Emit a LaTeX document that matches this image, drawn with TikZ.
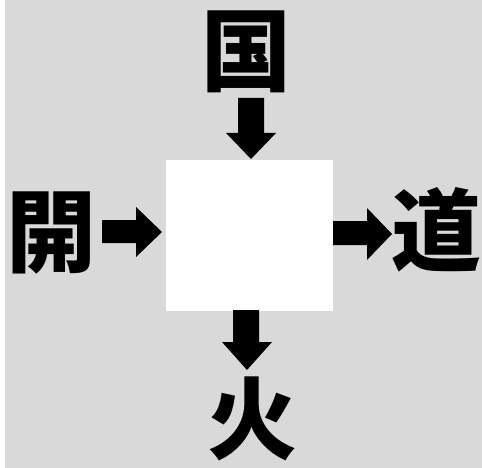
\documentclass[tikz,border=0pt]{standalone}
\usepackage{fontspec}
\newfontfamily\cjk{Noto Sans CJK JP}
\begin{document}
\begin{tikzpicture}[x=1pt,y=-1pt,
  kanji/.style={inner sep=0pt,font=\cjk\bfseries\fontsize{90}{90}\selectfont},
  blockarrow/.style={fill=black,draw=none}]
\useasboundingbox (0,0) rectangle (482,468);
\fill[white] (0,0) rectangle (482,468);
\fill[gray!30] (5,0) rectangle (482,468);
\node[fill=white,minimum width=167pt,minimum height=151pt,inner sep=0pt] (box) at (249.5,235.5) {};
\node[kanji] (top) at (246,52) {国};
\node[kanji] (left) at (51,233) {開};
\node[kanji] (right) at (436,230) {道};
\node[kanji] (bottom) at (252,419) {火};
% arrows
\fill[blockarrow] (238,98) -- (264,98) -- (264,133) -- (276,133) -- (251,159) -- (226,133) -- (238,133) -- cycle;
\fill[blockarrow] (102,220) -- (136,220) -- (136,207) -- (162,232) -- (136,257) -- (136,243) -- (102,243) -- cycle;
\fill[blockarrow] (333,221) -- (367,221) -- (367,208) -- (392,234) -- (367,260) -- (367,245) -- (333,245) -- cycle;
\fill[blockarrow] (233,310) -- (259,310) -- (259,342) -- (272,342) -- (247,370) -- (222,342) -- (233,342) -- cycle;
\end{tikzpicture}
\end{document}
